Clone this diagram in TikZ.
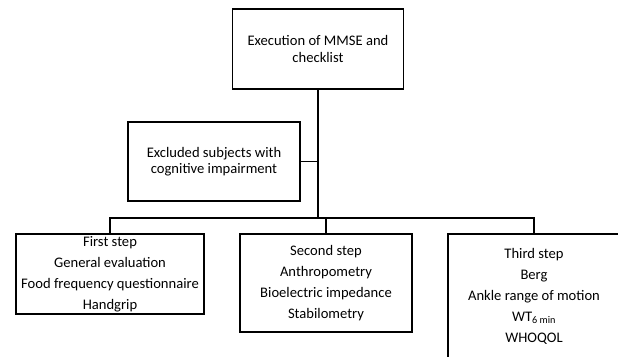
\documentclass[tikz,border=0pt]{standalone}
\usepackage{fontspec}
\setmainfont{Carlito}
\usepackage{tikz}
\usetikzlibrary{positioning}
\usetikzlibrary{calc}

\begin{document}
\begin{tikzpicture}[
    x=1pt, y=-1pt,
    font=\fontsize{14.6}{21}\selectfont,
    line width=1.4pt
  ]

  % Global Style Definitions
  \tikzset{
    box/.style={draw, fill=white, inner sep=0pt, align=center, text=black},
    tight/.style={font=\fontsize{14.6}{16.5}\selectfont},
    link/.style={draw, line width=1.4pt}
  }

  \useasboundingbox (0,0) rectangle (618,356);

  % Screening
  \node (exec) [box, tight, minimum width=171pt, minimum height=80pt] at (318,49)
    {Execution of MMSE and\\checklist};
  \node (excl) [box, tight, minimum width=172pt, minimum height=79pt] at (214,161.5)
    {Excluded subjects with\\cognitive impairment};

  % Bus line joining the three steps
  \coordinate (busL) at (110,218);
  \coordinate (busR) at (534,218);

  % The three steps
  \node (first) [box, minimum width=188pt, minimum height=80pt] at (110,274)
    {First step\\General evaluation\\Food frequency questionnaire\\Handgrip};
  \node (second) [box, minimum width=172pt, minimum height=98pt] at (326,283)
    {Second step\\Anthropometry\\Bioelectric impedance\\Stabilometry};
  \node (third) [box, minimum width=172pt, minimum height=124pt] at (534,296)
    {Third step\\Berg\\Ankle range of motion\\WT\textsubscript{6 min}\\WHOQOL};

  % Connections
  \draw[link] (exec.south) -- (exec.south |- busL);
  \draw[link] (excl.east) -- (excl.east -| exec.south);
  \draw[link] (first.north) -- (busL) -- (busR) -- (third.north);
  \draw[link] (second.north) -- (second.north |- busL);

\end{tikzpicture}
\end{document}
